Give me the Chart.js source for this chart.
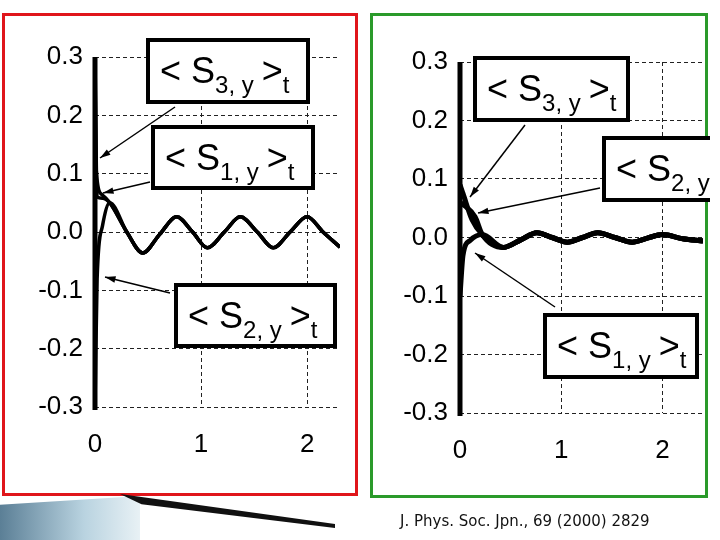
<!DOCTYPE html>
<html>
<head>
<meta charset="utf-8">
<script src="https://cdn.jsdelivr.net/npm/chart.js@4"></script>
<style>
  body { margin: 0; width: 720px; height: 540px; background: #fff; position: relative; overflow: hidden; font-family: "Liberation Sans", Arial, sans-serif; }
  .frame { position: absolute; box-sizing: border-box; }
  #redFrame { left: 2px; top: 13px; width: 356px; height: 483px; border: 3px solid #e0161b; }
  #greenFrame { left: 370px; top: 13px; width: 338px; height: 485px; border: 3px solid #2a9a2a; }
  canvas { position: absolute; }
  #left { left: 0; top: 0; }
  #right { left: 370px; top: 0; }
  #cite { position: absolute; left: 400px; top: 512px; font: 15px "DejaVu Sans", sans-serif; color: #111; }
  #waveA { position: absolute; left: 0; top: 496px; width: 140px; height: 44px;
    background: linear-gradient(90deg, #5b7f96, #b9d3e0 60%, #e8f1f5);
    clip-path: polygon(0 20%, 100% 0, 100% 100%, 0 100%); }
  #wedge { position: absolute; left: 120px; top: 494px; width: 215px; height: 34px;
    background: #111; clip-path: polygon(0 0, 100% 88%, 100% 100%, 10% 30%); }
</style>
</head>
<body>
<div class="frame" id="redFrame"></div>
<div class="frame" id="greenFrame"></div>
<canvas id="left" width="360" height="500"></canvas>
<canvas id="right" width="340" height="500"></canvas>
<div id="waveA"></div>
<div id="wedge"></div>
<div id="cite">J. Phys. Soc. Jpn., 69 (2000) 2829</div>
<script>
// y ticks shown on both panels
let yTicks = [0.3, 0.2, 0.1, 0.0, -0.1, -0.2, -0.3];
let xTicks = [0, 1, 2];

// left panel: <S_i,y>_t, initial transients then a common oscillation
let leftS1Head = [[0, 0.3], [0.02, 0.06], [0.07, 0.058]];
let leftS2Head = [[0, -0.3], [0.02, -0.08], [0.07, 0.01]];
let leftS3Head = [[0, 0.3], [0.01, 0.11], [0.06, 0.065]];
let leftTail = [[0.14, 0.05], [0.3, 0.0], [0.45, -0.036], [0.61, -0.004], [0.77, 0.026],
  [0.92, 0.0], [1.06, -0.027], [1.22, 0.0], [1.37, 0.026], [1.53, 0.0], [1.68, -0.027],
  [1.84, 0.0], [2.0, 0.026], [2.15, 0.0], [2.31, -0.026]];

// right panel: damped oscillation
let rightS1Head = [[0, -0.1], [0.03, -0.03], [0.1, -0.005]];
let rightS2Head = [[0.01, 0.06], [0.15, 0.035]];
let rightS3Head = [[0, 0.09], [0.03, 0.075], [0.12, 0.03]];
let rightTail = [[0.22, 0.005], [0.43, -0.017], [0.6, -0.004], [0.76, 0.008], [0.91, 0.0],
  [1.06, -0.008], [1.21, 0.0], [1.36, 0.008], [1.53, 0.0], [1.7, -0.008], [1.85, -0.001],
  [2.0, 0.005], [2.2, -0.002], [2.4, -0.006]];

function pts(head, tail) {
  return head.concat(tail).map(p => ({ x: p[0], y: p[1] }));
}

function drawLabel(ctx, x, y, w, h, sub) {
  ctx.save();
  ctx.fillStyle = "#fff";
  ctx.fillRect(x, y, w, h);
  ctx.lineWidth = 4;
  ctx.strokeStyle = "#000";
  ctx.strokeRect(x, y, w, h);
  ctx.fillStyle = "#000";
  ctx.textBaseline = "alphabetic";
  let big = '36px "Liberation Sans", Arial, sans-serif';
  let small = '24px "Liberation Sans", Arial, sans-serif';
  let cx = x + 12, base = y + h / 2 + 12;
  ctx.font = big; ctx.fillText("< S", cx, base); cx += ctx.measureText("< S").width;
  ctx.font = small; ctx.fillText(sub, cx, base + 10); cx += ctx.measureText(sub).width + 8;
  ctx.font = big; ctx.fillText(">", cx, base); cx += ctx.measureText(">").width;
  ctx.font = small; ctx.fillText("t", cx, base + 10);
  ctx.restore();
}

function drawArrow(ctx, x1, y1, x2, y2) {
  ctx.save();
  ctx.strokeStyle = "#000"; ctx.fillStyle = "#000"; ctx.lineWidth = 1.5;
  ctx.beginPath(); ctx.moveTo(x1, y1); ctx.lineTo(x2, y2); ctx.stroke();
  let a = Math.atan2(y2 - y1, x2 - x1);
  ctx.beginPath();
  ctx.moveTo(x2, y2);
  ctx.lineTo(x2 - 11 * Math.cos(a - 0.3), y2 - 11 * Math.sin(a - 0.3));
  ctx.lineTo(x2 - 11 * Math.cos(a + 0.3), y2 - 11 * Math.sin(a + 0.3));
  ctx.closePath(); ctx.fill();
  ctx.restore();
}

function makeChart(id, datasets, xMax, padTop, padRight, yWidth, xHeight, labels, arrows) {
  return new Chart(document.getElementById(id), {
    type: "line",
    data: { datasets: datasets },
    options: {
      responsive: false,
      animation: false,
      layout: { padding: { top: padTop, right: padRight, left: 0, bottom: 0 } },
      plugins: { legend: { display: false }, tooltip: { enabled: false } },
      elements: { point: { radius: 0 } },
      scales: {
        x: {
          type: "linear", min: 0, max: xMax,
          afterFit: s => { s.height = xHeight; },
          afterBuildTicks: s => { s.ticks = xTicks.map(v => ({ value: v })); },
          border: { display: false, dash: [4, 3] },
          grid: { color: "#222", lineWidth: 1, drawTicks: false },
          ticks: { padding: 22, color: "#000", font: { size: 26, family: "Liberation Sans" } }
        },
        y: {
          min: -0.3, max: 0.3,
          afterFit: s => { s.width = yWidth; },
          afterBuildTicks: s => { s.ticks = yTicks.map(v => ({ value: v })); },
          border: { display: false, dash: [4, 3] },
          grid: { color: "#222", lineWidth: 1, drawTicks: false },
          ticks: { padding: 12, color: "#000", font: { size: 26, family: "Liberation Sans" },
            callback: v => v.toFixed(1) }
        }
      }
    },
    plugins: [{
      id: "notes",
      afterDatasetsDraw: c => {
        let ctx = c.ctx, a = c.chartArea;
        // thick left axis line
        ctx.save();
        ctx.strokeStyle = "#000"; ctx.lineWidth = 5;
        ctx.beginPath(); ctx.moveTo(a.left, a.top); ctx.lineTo(a.left, a.bottom + 3); ctx.stroke();
        ctx.restore();
        arrows.forEach(p => drawArrow(ctx, p[0], p[1], p[2], p[3]));
        labels.forEach(l => drawLabel(ctx, l[0], l[1], l[2], l[3], l[4]));
      }
    }]
  });
}

let lineStyle = { borderColor: "#000", fill: false, cubicInterpolationMode: "monotone" };

makeChart("left", [
  Object.assign({ data: pts(leftS1Head, leftTail), borderWidth: 3.5 }, lineStyle),
  Object.assign({ data: pts(leftS2Head, leftTail), borderWidth: 3.5 }, lineStyle),
  Object.assign({ data: pts(leftS3Head, leftTail), borderWidth: 3.5 }, lineStyle)
], 2.31, 57, 20, 95, 93,
  [[148, 40, 160, 62, "3, y"], [153, 127, 160, 61, "1, y"], [176, 285, 159, 61, "2, y"]],
  [[175, 107, 100, 158], [150, 182, 103, 193], [170, 293, 105, 277]]);

makeChart("right", [
  Object.assign({ data: pts(rightS1Head, rightTail), borderWidth: 5 }, lineStyle),
  Object.assign({ data: pts(rightS2Head, rightTail), borderWidth: 5 }, lineStyle),
  Object.assign({ data: pts(rightS3Head, rightTail), borderWidth: 5 }, lineStyle)
], 2.4, 62, 7, 90, 87,
  [[105, 58, 153, 62, "3, y"], [234, 138, 140, 62, "2, y"], [175, 315, 152, 62, "1, y"]],
  [[155, 125, 100, 197], [230, 188, 108, 213], [185, 307, 105, 253]]);
</script>
</body>
</html>
